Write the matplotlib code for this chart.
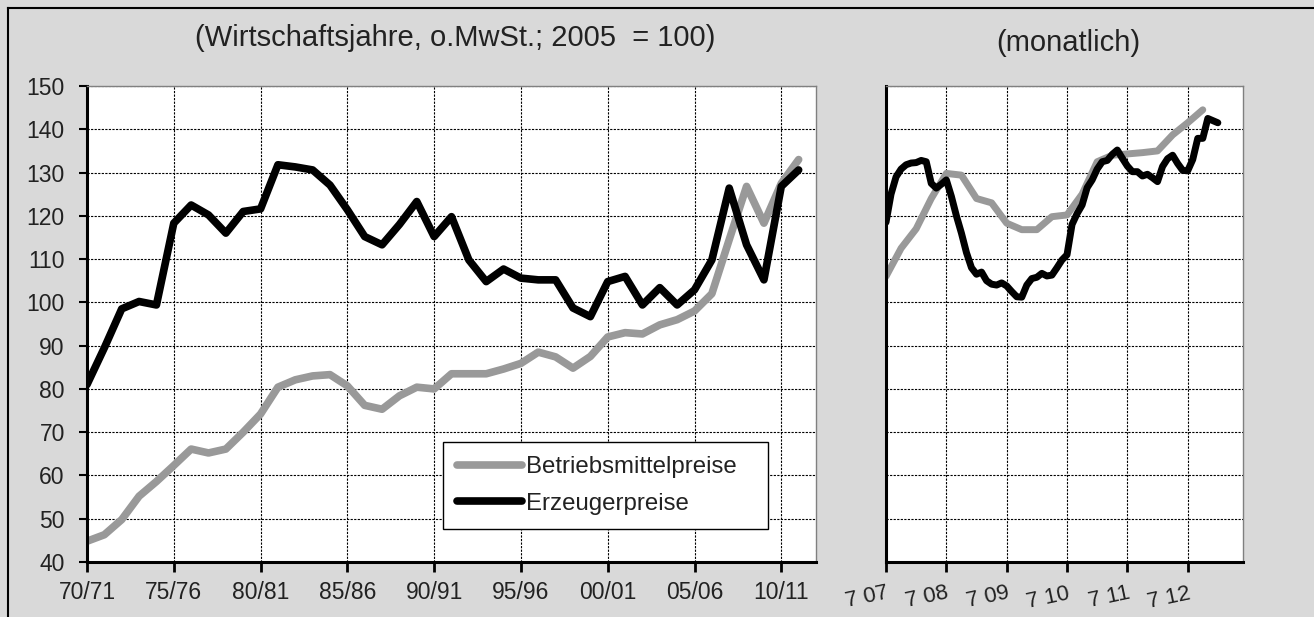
import matplotlib
matplotlib.use("Agg")
import matplotlib.pyplot as plt
from matplotlib.lines import Line2D

plt.rcParams["font.family"] = ["Liberation Sans", "DejaVu Sans"]

# Jahreswerte (Wirtschaftsjahre 70/71 .. 11/12), 2005 = 100
jahre_ticks = ["70/71", "75/76", "80/81", "85/86", "90/91", "95/96", "00/01", "05/06", "10/11"]
betriebsmittel_jahr = [
    44.8, 46.3, 49.8, 55.2, 58.6, 62.3, 66.1, 65.2, 66.1, 70.0,
    74.2, 80.4, 82.1, 83.0, 83.3, 80.7, 76.2, 75.3, 78.4, 80.4,
    80.0, 83.5, 83.5, 83.5, 84.6, 85.9, 88.5, 87.4, 84.8, 87.5,
    92.0, 93.0, 92.7, 94.8, 96.0, 98.0, 102.0, 114.5, 126.8, 118.3,
    127.5, 133.0,
]
erzeuger_jahr = [
    81.0, 89.5, 98.5, 100.2, 99.4, 118.3, 122.5, 120.2, 116.0, 121.0,
    121.6, 131.8, 131.3, 130.6, 127.1, 121.4, 115.2, 113.3, 118.0, 123.3,
    115.2, 119.8, 109.8, 104.8, 107.7, 105.6, 105.2, 105.2, 98.7, 96.7,
    104.8, 106.0, 99.4, 103.4, 99.4, 102.9, 109.8, 126.4, 113.3, 105.2,
    126.8, 130.6,
]

# Monatswerte ab Juli 2007 (Monat 0 = 7/07)
monat_ticks = ["7 07", "7 08", "7 09", "7 10", "7 11", "7 12"]
betriebsmittel_monat_x = [0, 3, 6, 9, 12, 15, 18, 21, 24, 27, 30, 33, 36, 39, 42, 45, 48, 51, 54, 57, 60, 63]
betriebsmittel_monat = [
    106.0, 112.5, 117.0, 124.0, 129.8, 129.4, 124.0, 123.0, 118.3, 116.8,
    116.8, 119.8, 120.2, 125.0, 132.5, 134.0, 134.3, 134.6, 135.0, 138.7,
    141.5, 144.5,
]
erzeuger_monat = [
    118.5, 125.0, 129.0, 130.8, 131.8, 132.2, 132.3, 132.8, 132.5, 127.5,
    126.4, 127.3, 128.3, 124.5, 120.0, 116.0, 111.5, 108.0, 106.5, 107.0,
    105.0, 104.2, 104.0, 104.5, 103.8, 102.5, 101.3, 101.2, 104.0, 105.5,
    105.8, 106.7, 106.1, 106.3, 108.0, 109.8, 111.0, 118.0, 120.5, 122.5,
    126.5, 128.3, 130.8, 132.5, 132.8, 134.2, 135.2, 133.3, 131.5, 130.2,
    130.2, 129.2, 129.6, 128.8, 127.9, 131.4, 133.2, 134.0, 132.1, 130.5,
    130.4, 133.0, 137.9, 137.9, 142.5, 142.0, 141.5,
]

GRAU = "#999999"
SCHWARZ = "#000000"
HINTERGRUND = "#d9d9d9"
TEXT = "#222222"

fig = plt.figure(figsize=(13.14, 6.17), dpi=100, facecolor=HINTERGRUND)

# Rahmen (oben und links sichtbar)
fig.add_artist(Line2D([8 / 1314, 1.0], [1 - 8 / 617] * 2, transform=fig.transFigure, color="black", lw=1.5))
fig.add_artist(Line2D([8 / 1314] * 2, [0.0, 1 - 8 / 617], transform=fig.transFigure, color="black", lw=1.5))

ax1 = fig.add_axes([87 / 1314, 1 - 562 / 617, 729 / 1314, 476 / 617])
ax2 = fig.add_axes([886 / 1314, 1 - 562 / 617, 357 / 1314, 476 / 617])

grid_style = dict(color="black", linestyle=(0, (2.0, 1.2)), linewidth=0.8)


def style_axes(ax):
    ax.set_facecolor("white")
    ax.set_ylim(40, 150)
    ax.set_yticks(range(40, 151, 10))
    ax.grid(True, **grid_style)
    ax.set_axisbelow(True)
    for side in ("top", "right"):
        ax.spines[side].set_color("#808080")
        ax.spines[side].set_linewidth(1.0)
    for side in ("left", "bottom"):
        ax.spines[side].set_color("black")
        ax.spines[side].set_linewidth(2.2)


style_axes(ax1)
x_jahr = list(range(len(erzeuger_jahr)))
ax1.plot(x_jahr, betriebsmittel_jahr, color=GRAU, lw=5.5, solid_joinstyle="round",
         solid_capstyle="round", label="Betriebsmittelpreise")
ax1.plot(x_jahr, erzeuger_jahr, color=SCHWARZ, lw=5.5, solid_joinstyle="round",
         solid_capstyle="round", label="Erzeugerpreise")
ax1.set_xlim(0, 42)
ax1.set_xticks(range(0, 41, 5))
ax1.set_xticklabels(jahre_ticks)
ax1.tick_params(axis="x", direction="out", length=7, width=2, pad=7, labelsize=16.5)
ax1.tick_params(axis="y", direction="out", length=6, width=1.5, pad=10, labelsize=16.5)
for lbl in ax1.get_xticklabels() + ax1.get_yticklabels():
    lbl.set_color(TEXT)

leg = ax1.legend(loc="lower left", bbox_to_anchor=(0.488, 0.0687, 0.4466, 0.1807), mode="expand",
                 borderaxespad=0, fontsize=17.3, frameon=True, fancybox=False, edgecolor="black",
                 framealpha=1, handlelength=2.7, handletextpad=0.15, labelspacing=0.6, borderpad=0.6)
leg.get_frame().set_linewidth(1.0)
for txt in leg.get_texts():
    txt.set_color(TEXT)

style_axes(ax2)
ax2.plot(betriebsmittel_monat_x, betriebsmittel_monat, color=GRAU, lw=5,
         solid_joinstyle="round", solid_capstyle="round")
ax2.plot(range(len(erzeuger_monat)), erzeuger_monat, color=SCHWARZ, lw=5,
         solid_joinstyle="round", solid_capstyle="round")
ax2.set_xlim(0, 71)
ax2.set_xticks(range(0, 61, 12))
ax2.set_xticklabels(monat_ticks, rotation=12, ha="right", rotation_mode="anchor")
ax2.tick_params(axis="x", direction="out", length=7, width=2, pad=8, labelsize=16)
ax2.tick_params(axis="y", left=False, labelleft=False)
for lbl in ax2.get_xticklabels():
    lbl.set_color(TEXT)

fig.text(455 / 1314, 1 - 38 / 617, "(Wirtschaftsjahre, o.MwSt.; 2005  = 100)", ha="center", va="center",
         fontsize=21, color=TEXT)
fig.text(1068 / 1314, 1 - 43 / 617, "(monatlich)", ha="center", va="center", fontsize=21, color=TEXT)

fig.savefig("out.png", dpi=100, facecolor=HINTERGRUND)
